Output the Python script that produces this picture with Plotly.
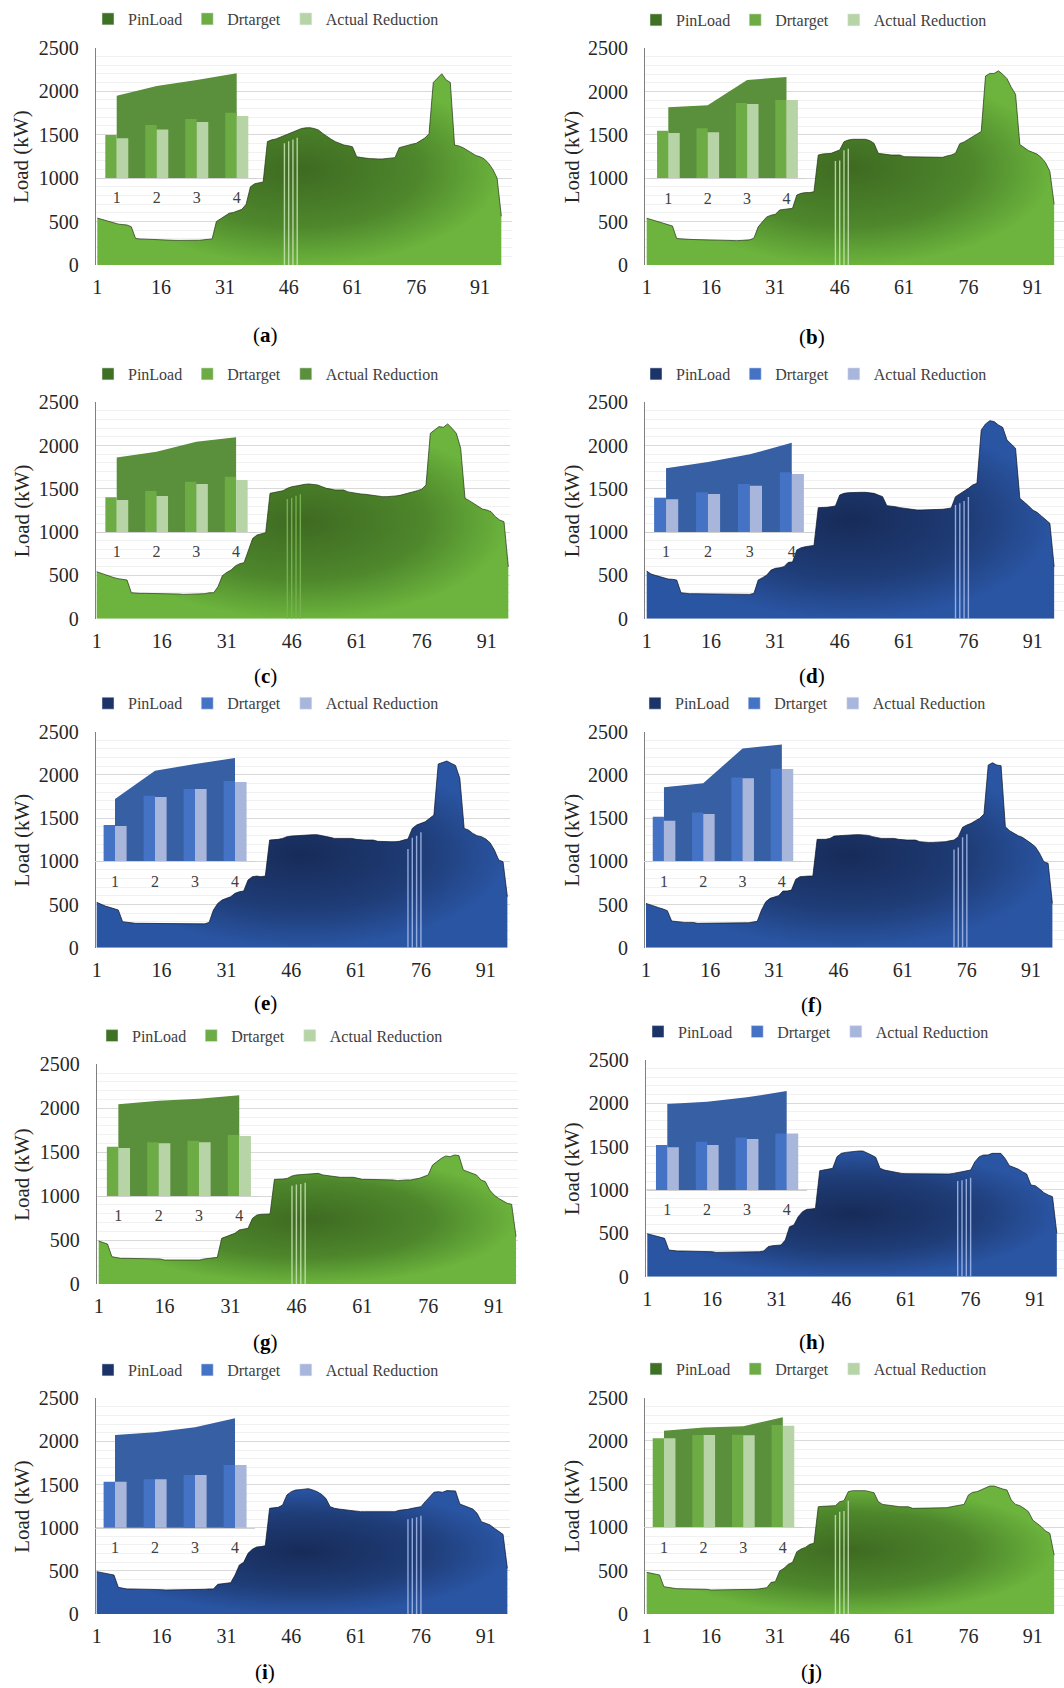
import plotly.graph_objects as go

W, H = 1064, 1688
FONT = "Liberation Serif"

# ---------------- data ----------------
slots = list(range(1, 97))
x_ticks = [1, 16, 31, 46, 61, 76, 91]
y_ticks = [0, 500, 1000, 1500, 2000, 2500]
inset_cats = ["1", "2", "3", "4"]
legend_names = ["PinLoad", "Drtarget", "Actual Reduction"]
panel_ids = list("abcdefghij")

load_a = [540, 525, 510, 495, 480, 470, 465, 460, 440,
          305, 300, 297, 295, 292, 290, 288, 286, 285, 284, 283,
          282, 282, 282, 283, 285, 290, 295, 300,
          500, 535, 560, 595, 605, 620, 640, 700, 900, 935, 945, 955,
          1420, 1440, 1450, 1470, 1490, 1515, 1535, 1555, 1570, 1578, 1580, 1570, 1553, 1514, 1476, 1446, 1419, 1400, 1380, 1373,
          1360, 1245, 1235, 1230, 1225, 1220, 1220, 1220, 1225, 1230, 1235,
          1350, 1365, 1375, 1390, 1400, 1430, 1460, 1510,
          2100, 2150, 2200, 2130, 2100,
          1380, 1370, 1350, 1320, 1290, 1260, 1245, 1220, 1170, 1100, 1000, 560]
load_b = [540, 525, 510, 495, 480, 465, 450, 305,
          300, 298, 296, 294, 292, 290, 288, 286, 284, 282, 281, 280, 280, 281, 283, 286, 290, 310,
          440, 500, 555, 575, 585, 635, 642, 646, 654, 808, 827, 835, 835, 846,
          1269, 1281, 1281, 1288, 1308, 1327, 1423, 1442, 1450, 1450, 1450, 1450, 1435, 1404, 1288, 1280, 1280, 1269, 1269, 1269,
          1250, 1250, 1250, 1250, 1242, 1242, 1242, 1242, 1242, 1242, 1258, 1269,
          1290, 1400, 1420, 1450, 1480, 1510, 1540,
          2180, 2210, 2210, 2240, 2200, 2150, 2050, 1970, 1390,
          1350, 1320, 1300, 1280, 1240, 1180, 1080, 700]
load_c = [543, 524, 505, 489, 474, 462, 455, 447,
          300, 293, 293, 293, 293, 293, 285, 285, 285, 285, 285, 285, 281, 281, 281, 281, 281, 289, 300, 300,
          370, 497, 535, 562, 609, 636, 647, 794, 928, 967, 978, 994,
          1448, 1456, 1468, 1479, 1506, 1525, 1533, 1545, 1552, 1556, 1552, 1545, 1525, 1506, 1498, 1487, 1487, 1487, 1465, 1455,
          1448, 1440, 1437, 1429, 1418, 1410, 1410, 1410, 1410, 1418, 1425, 1437, 1448, 1460, 1479, 1495, 1545,
          2142, 2180, 2219, 2211, 2250, 2200, 2142, 1969,
          1391, 1364, 1333, 1294, 1267, 1256, 1237, 1179, 1140, 1121, 600]
load_d = [551, 516, 501, 485, 466, 458, 455, 447,
          300, 293, 289, 289, 289, 281, 281, 281, 281, 281, 281, 281, 281, 281, 281, 281, 281, 293,
          447, 474, 505, 562, 582, 589, 601, 651, 655, 794, 820, 832, 840, 847,
          1283, 1283, 1287, 1294, 1302, 1429, 1448, 1456, 1460, 1460, 1460, 1460, 1456, 1448, 1429, 1410,
          1306, 1302, 1294, 1283, 1275, 1267, 1256, 1256, 1256, 1256, 1256, 1256, 1256, 1264, 1271, 1279,
          1410, 1441, 1468, 1506, 1545, 1564,
          2180, 2250, 2288, 2277, 2238, 2211, 2065, 2015, 1969,
          1391, 1352, 1306, 1256, 1229, 1187, 1140, 1102, 600]
load_e = [525, 502, 482, 467, 451, 436,
          301, 293, 293, 282, 282, 282, 282, 282, 276, 276, 276, 276, 276, 276, 276, 276, 276, 276, 276, 276, 293,
          436, 513, 552, 571, 590, 629, 648, 656, 783, 822, 829, 822, 829,
          1246, 1246, 1254, 1265, 1285, 1292, 1296, 1300, 1308, 1308, 1308, 1308, 1300, 1285, 1277, 1265, 1265, 1265, 1265, 1265,
          1254, 1246, 1246, 1246, 1246, 1231, 1227, 1227, 1227, 1227, 1231, 1246, 1258,
          1381, 1420, 1439, 1458, 1497, 1535,
          2126, 2141, 2161, 2134, 2110, 1960,
          1381, 1362, 1323, 1296, 1285, 1258, 1215, 1130, 1015, 995, 590]
load_f = [513, 494, 482, 463, 448, 428,
          309, 301, 293, 293, 293, 293, 282, 282, 282, 282, 282, 282, 282, 282, 282, 282, 282, 282, 289, 297, 305,
          436, 532, 571, 590, 602, 656, 656, 667, 791, 822, 829, 829, 829,
          1254, 1254, 1254, 1265, 1292, 1296, 1300, 1308, 1308, 1308, 1308, 1308, 1300, 1285, 1273, 1265, 1265, 1265, 1265, 1254,
          1246, 1246, 1246, 1246, 1227, 1219, 1219, 1219, 1219, 1219, 1227, 1238, 1246, 1285, 1393, 1420, 1439, 1470, 1497, 1547,
          2114, 2141, 2114, 2106,
          1400, 1354, 1323, 1296, 1277, 1246, 1208, 1169, 1092, 995, 976, 513]
load_g = [489, 470, 455, 311, 300,
          292, 292, 292, 292, 292, 285, 285, 285, 285, 285, 273, 273, 273, 273, 273, 273, 273, 273, 273, 285, 292, 296, 303,
          520, 539, 558, 577, 615, 622, 634, 747, 785, 793, 793, 797,
          1191, 1191, 1195, 1203, 1229, 1241, 1244, 1248, 1252, 1256, 1259, 1241, 1233, 1222, 1214, 1214, 1214, 1214, 1214, 1203,
          1191, 1191, 1191, 1191, 1184, 1184, 1184, 1184, 1176, 1184, 1184, 1184, 1191, 1203, 1222, 1241,
          1354, 1392, 1430, 1457, 1449, 1468, 1461,
          1297, 1278, 1259, 1241, 1184, 1165, 1070, 1013, 975, 945, 918, 907, 539]
load_h = [495, 480, 468, 453, 442,
          307, 300, 296, 296, 296, 296, 288, 288, 288, 288, 288, 280, 280, 280, 280, 280, 280, 280, 280, 280, 288, 288, 296,
          346, 357, 357, 365, 422, 576, 595, 691, 749, 776, 780, 787,
          1221, 1229, 1237, 1248, 1382, 1421, 1432, 1440, 1448, 1448, 1448, 1429, 1402, 1375, 1248, 1229, 1217, 1210, 1198, 1190,
          1187, 1187, 1187, 1187, 1179, 1179, 1179, 1179, 1179, 1179, 1183, 1190, 1198, 1206, 1221, 1229,
          1325, 1382, 1402, 1402, 1421, 1421, 1421, 1363, 1279, 1260, 1240, 1210, 1183,
          1056, 1048, 1010, 968, 941, 922, 500]
load_i = [491, 479, 468, 460, 452,
          309, 298, 290, 290, 290, 290, 282, 282, 282, 282, 282, 278, 278, 278, 278, 278, 278, 278, 278, 278, 286, 290, 290,
          344, 352, 356, 363, 452, 568, 599, 703, 750, 777, 781, 792,
          1225, 1233, 1237, 1264, 1380, 1418, 1437, 1441, 1445, 1453, 1437, 1418, 1387, 1341, 1244, 1225, 1217, 1210, 1202, 1198,
          1186, 1186, 1186, 1186, 1182, 1182, 1182, 1182, 1182, 1186, 1202, 1206, 1213, 1225, 1237, 1244,
          1302, 1360, 1411, 1418, 1411, 1430, 1430, 1426,
          1275, 1256, 1244, 1217, 1167, 1070, 1051, 1032, 993, 954, 923, 529]
load_j = [482, 474, 466, 451,
          316, 304, 300, 293, 293, 293, 293, 285, 285, 285, 285, 277, 277, 277, 277, 277, 277, 277, 277, 277, 277, 285, 289, 297, 304,
          366, 374, 497, 528, 574, 597, 720, 751, 770, 805, 817,
          1240, 1244, 1244, 1252, 1252, 1298, 1310, 1414, 1425, 1425, 1425, 1425, 1414, 1402, 1298, 1267, 1260, 1252, 1240, 1240,
          1240, 1240, 1221, 1221, 1221, 1221, 1221, 1221, 1221, 1221, 1229, 1240, 1248, 1252, 1267,
          1375, 1406, 1414, 1433, 1460, 1479, 1479, 1460, 1445, 1433,
          1317, 1267, 1252, 1221, 1183, 1086, 1048, 1009, 959, 932, 680]

# thin reduction lines inside the main area (slot, height)
cut_x_a = [45, 46, 47, 48]; cut_h_a = [1400, 1425, 1445, 1465]
cut_x_b = [45, 46, 47, 48]; cut_h_b = [1200, 1205, 1325, 1340]
cut_x_c = [45, 46, 47, 48]; cut_h_c = [1383, 1398, 1421, 1437]
cut_x_d = [73, 74, 75, 76]; cut_h_d = [1314, 1333, 1360, 1406]
cut_x_e = [73, 74, 75, 76]; cut_h_e = [1142, 1273, 1296, 1335]
cut_x_f = [73, 74, 75, 76]; cut_h_f = [1138, 1161, 1277, 1312]
cut_x_g = [45, 46, 47, 48]; cut_h_g = [1119, 1131, 1138, 1153]
cut_x_h = [73, 74, 75, 76]; cut_h_h = [1102, 1110, 1125, 1140]
cut_x_i = [73, 74, 75, 76]; cut_h_i = [1097, 1109, 1121, 1140]
cut_x_j = [45, 46, 47, 48]; cut_h_j = [1144, 1183, 1190, 1310]

# inset values (read on the main kW scale)
pin_a = [1948, 2059, 2128, 2205]; dr_a = [1495, 1610, 1680, 1752]; act_a = [1457, 1560, 1645, 1714]
pin_b = [1819, 1842, 2135, 2169]; dr_b = [1550, 1577, 1869, 1904]; act_b = [1523, 1531, 1858, 1904]
pin_c = [1861, 1930, 2045, 2096]; dr_c = [1402, 1475, 1583, 1641]; act_c = [1371, 1418, 1556, 1602]
pin_d = [1737, 1810, 1899, 2034]; dr_d = [1398, 1460, 1556, 1691]; act_d = [1379, 1441, 1537, 1672]
pin_e = [1721, 2049, 2126, 2195]; dr_e = [1420, 1759, 1836, 1929]; act_e = [1408, 1744, 1836, 1917]
pin_f = [1856, 1902, 2307, 2353]; dr_f = [1516, 1566, 1971, 2072]; act_f = [1470, 1547, 1960, 2068]
pin_g = [2045, 2086, 2109, 2147]; dr_g = [1563, 1612, 1631, 1696]; act_g = [1548, 1601, 1612, 1684]
pin_h = [1989, 2016, 2066, 2139]; dr_h = [1517, 1555, 1605, 1651]; act_h = [1490, 1517, 1586, 1651]
pin_i = [2075, 2106, 2164, 2268]; dr_i = [1534, 1561, 1611, 1727]; act_i = [1534, 1561, 1611, 1727]
pin_j = [2119, 2157, 2169, 2273]; dr_j = [2030, 2069, 2072, 2184]; act_j = [2030, 2069, 2065, 2177]

# ---------------- styles & geometry ----------------
GREEN = dict(grad=[[0, "#3e6a21"], [0.6, "#4e872c"], [1, "#6cb43d"]], edge="rgba(35,55,20,0.9)",
             vline="rgba(200,228,180,0.85)", pin="#5a8f3b", dr="#6dab45", act="#b7d4a6",
             leg=["#3f7125", "#6dab45", "#b7d4a6"])
BLUE = dict(grad=[[0, "#172b58"], [0.6, "#1f3d78"], [1, "#2a55a3"]], edge="rgba(12,22,45,0.9)",
            vline="rgba(160,182,230,0.9)", pin="#375fa3", dr="#4472c4", act="#a9b6dc",
            leg=["#1b3366", "#4472c4", "#a9b6dc"])

data = {
    "a": (load_a, cut_x_a, cut_h_a, pin_a, dr_a, act_a),
    "b": (load_b, cut_x_b, cut_h_b, pin_b, dr_b, act_b),
    "c": (load_c, cut_x_c, cut_h_c, pin_c, dr_c, act_c),
    "d": (load_d, cut_x_d, cut_h_d, pin_d, dr_d, act_d),
    "e": (load_e, cut_x_e, cut_h_e, pin_e, dr_e, act_e),
    "f": (load_f, cut_x_f, cut_h_f, pin_f, dr_f, act_f),
    "g": (load_g, cut_x_g, cut_h_g, pin_g, dr_g, act_g),
    "h": (load_h, cut_x_h, cut_h_h, pin_h, dr_h, act_h),
    "i": (load_i, cut_x_i, cut_h_i, pin_i, dr_i, act_i),
    "j": (load_j, cut_x_j, cut_h_j, pin_j, dr_j, act_j),
}
scheme = {"a": GREEN, "b": GREEN, "c": GREEN, "d": BLUE, "e": BLUE,
          "f": BLUE, "g": GREEN, "h": BLUE, "i": BLUE, "j": GREEN}

# pixel geometry: axis-line px, px of slot 1, px per slot, right px, top(2500) px, bottom(0) px,
# inset left px, inset px per category, legend centre, caption centre, y-title x
geom = {
    "a": dict(left=95.7, x1=97.3, unit=4.253, right=512, top=47.7, bottom=265, ins0=96.7, inw=40.0, leg=(266, 19), cap=(265, 335), ytx=21.7),
    "b": dict(left=645, x1=646.7, unit=4.289, right=1064, top=48.3, bottom=265, ins0=648.6, inw=39.4, leg=(814, 20), cap=(811.7, 336.7), ytx=571.7),
    "c": dict(left=95.7, x1=96.7, unit=4.333, right=510, top=402.3, bottom=618.7, ins0=96.8, inw=39.8, leg=(266, 374), cap=(265, 676), ytx=21.7),
    "d": dict(left=645, x1=646.7, unit=4.289, right=1064, top=402.3, bottom=618.7, ins0=645.1, inw=41.9, leg=(814, 374), cap=(811.7, 676), ytx=571.7),
    "e": dict(left=95.7, x1=96.7, unit=4.323, right=510, top=731.7, bottom=947.7, ins0=95.0, inw=40.0, leg=(266, 703.3), cap=(265, 1003), ytx=21.7),
    "f": dict(left=645, x1=646.0, unit=4.278, right=1064, top=731.7, bottom=947.7, ins0=644.3, inw=39.3, leg=(813, 703.3), cap=(811.7, 1005), ytx=571.7),
    "g": dict(left=96.7, x1=98.7, unit=4.393, right=518, top=1064.3, bottom=1284, ins0=98.2, inw=40.3, leg=(270, 1035.7), cap=(265, 1341.7), ytx=21.7),
    "h": dict(left=645.7, x1=647.3, unit=4.311, right=1064, top=1059.7, bottom=1276.7, ins0=647.4, inw=39.8, leg=(816, 1031.7), cap=(811.7, 1341.7), ytx=571.7),
    "i": dict(left=95.7, x1=96.7, unit=4.323, right=510, top=1398.3, bottom=1614, ins0=95.0, inw=40.0, leg=(266, 1370), cap=(265, 1671.7), ytx=21.7),
    "j": dict(left=645, x1=646.7, unit=4.289, right=1064, top=1397.7, bottom=1614, ins0=644.2, inw=39.6, leg=(814, 1369), cap=(811.7, 1671.7), ytx=571.7),
}

fig = go.Figure()
layout = {}
annotations = []


def ax(kind, n):
    return kind + ("" if n == 1 else str(n))


for k, pid in enumerate(panel_ids):
    load, cx, ch, pin, dr, act = data[pid]
    assert len(load) == 96, (pid, len(load))
    sc = scheme[pid]
    g = geom[pid]
    nm, ni, nb = 3 * k + 1, 3 * k + 2, 3 * k + 3
    xm, ym = ax("x", nm), ax("y", nm)
    xi, yi, yb = ax("x", ni), ax("y", ni), ax("y", nb)
    lg = "legend" if k == 0 else f"legend{k + 1}"

    # main area
    fig.add_trace(go.Scatter(x=slots, y=load, mode="lines", fill="tozeroy",
                             line=dict(width=0.8, color=sc["edge"]),
                             fillgradient=dict(type="radial", colorscale=sc["grad"]),
                             xaxis=xm, yaxis=ym, showlegend=False, hoverinfo="skip"))
    # reduction lines
    lx, ly = [], []
    for xv, hv in zip(cx, ch):
        lx += [xv, xv, None]
        ly += [0, hv, None]
    vcol = "rgba(120,178,80,0.95)" if pid == "c" else sc["vline"]
    fig.add_trace(go.Scatter(x=lx, y=ly, mode="lines", line=dict(width=1.4, color=vcol),
                             xaxis=xm, yaxis=ym, showlegend=False, hoverinfo="skip"))
    # legend proxies
    leg_cols = list(sc["leg"])
    if pid == "c":
        leg_cols[2] = "#5a8f3b"
    for name, col in zip(legend_names, leg_cols):
        fig.add_trace(go.Bar(x=[None], y=[None], name=name, marker_color=col,
                             xaxis=xm, yaxis=ym, legend=lg, showlegend=True))
    # inset PinLoad area
    fig.add_trace(go.Scatter(x=inset_cats, y=pin, mode="lines", fill="tozeroy",
                             line=dict(width=0, color=sc["pin"]), fillcolor=sc["pin"],
                             xaxis=xi, yaxis=yi, showlegend=False, hoverinfo="skip"))
    # inset bars
    fig.add_trace(go.Bar(x=inset_cats, y=dr, width=0.285, offset=-0.285, marker=dict(color=sc["dr"], line=dict(width=0)),
                         xaxis=xi, yaxis=yb, showlegend=False))
    fig.add_trace(go.Bar(x=inset_cats, y=act, width=0.29, offset=0.0, marker=dict(color=sc["act"], line=dict(width=0)),
                         xaxis=xi, yaxis=yb, showlegend=False))

    # axes
    xr = [1 - (g["x1"] - g["left"]) / g["unit"], 1 + (g["right"] - g["x1"]) / g["unit"]]
    ydom = [(H - g["bottom"]) / H, (H - g["top"]) / H]
    layout[ax("xaxis", nm)] = dict(domain=[g["left"] / W, min(1.0, g["right"] / W)], range=xr, anchor=ym,
                                   tickvals=x_ticks, showgrid=False, zeroline=False, showline=False,
                                   ticks="", ticklabelstandoff=8, automargin=False,
                                   tickfont=dict(family=FONT, size=20, color="#262626"))
    layout[ax("yaxis", nm)] = dict(domain=ydom, range=[0, 2500], anchor=xm, tickvals=y_ticks,
                                   showgrid=True, gridcolor="#d9d9d9", gridwidth=1, zeroline=False,
                                   showline=True, linecolor="#7f7f7f", linewidth=1, automargin=False,
                                   minor=dict(dtick=100, tick0=0, showgrid=True, gridcolor="#f1f1f1", gridwidth=1),
                                   ticks="", ticklabelstandoff=12,
                                   tickfont=dict(family=FONT, size=20, color="#262626"))
    p1000 = g["bottom"] - (g["bottom"] - g["top"]) * 1000 / 2500
    layout[ax("xaxis", ni)] = dict(domain=[g["ins0"] / W, (g["ins0"] + 4 * g["inw"]) / W], type="category",
                                   range=[-0.5, 3.5], anchor=yi, showgrid=False, zeroline=False,
                                   showline=True, linecolor="#d0d0d0", linewidth=1, ticks="", automargin=False,
                                   ticklabelstandoff=5, tickfont=dict(family=FONT, size=16, color="#404040"))
    layout[ax("yaxis", ni)] = dict(domain=[(H - p1000) / H, (H - g["top"]) / H], range=[1000, 2500],
                                   anchor=xi, visible=False)
    layout[ax("yaxis", nb)] = dict(range=[1000, 2500], overlaying=yi, anchor=xi, visible=False)

    layout[lg] = dict(orientation="h", x=g["leg"][0] / W, y=1 - g["leg"][1] / H, xanchor="center", yanchor="middle",
                      font=dict(family=FONT, size=16, color="#404040"), bgcolor="rgba(0,0,0,0)",
                      itemwidth=30, itemclick=False, itemdoubleclick=False)

    annotations.append(dict(text="Load (kW)", textangle=-90, x=g["ytx"] / W, y=1 - (g["top"] + g["bottom"]) / 2 / H,
                            xref="paper", yref="paper", xanchor="center", yanchor="middle", showarrow=False,
                            font=dict(family=FONT, size=21, color="#262626")))
    annotations.append(dict(text=f"(<b>{pid}</b>)", x=g["cap"][0] / W, y=1 - g["cap"][1] / H,
                            xref="paper", yref="paper", xanchor="center", yanchor="middle", showarrow=False,
                            font=dict(family=FONT, size=21, color="#000000")))

fig.update_layout(width=W, height=H, margin=dict(l=0, r=0, t=0, b=0, pad=0, autoexpand=False),
                  paper_bgcolor="white", plot_bgcolor="rgba(0,0,0,0)", barmode="overlay",
                  annotations=annotations, font=dict(family=FONT), hovermode=False, **layout)

fig.write_html("out.html", config={"displayModeBar": False, "staticPlot": True},
               post_script="document.body.style.margin='0px';document.body.style.overflow='hidden';")
